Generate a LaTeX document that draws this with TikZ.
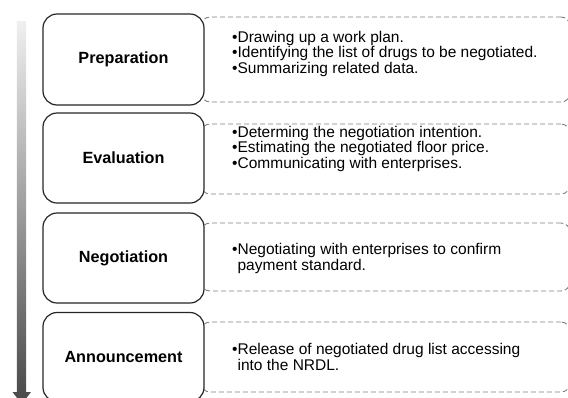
\documentclass[tikz,border=0pt]{standalone}
\usepackage{fontspec}
\setmainfont{Liberation Sans}
\begin{document}
\begin{tikzpicture}[x=1pt,y=-1pt]
\useasboundingbox (0,0) rectangle (568,397);
\clip (0,0) rectangle (568,397);
\tikzset{
  stage/.style={draw=black!85, line width=1.2pt, rounded corners=14pt, fill=white,
    minimum width=161pt, inner sep=0pt, font=\fontsize{16.2}{18}\selectfont\bfseries},
  detail/.style={draw=black!50, dash pattern=on 5pt off 3pt, line width=0.9pt,
    rounded corners=9pt, minimum width=369pt, inner sep=0pt},
  items/.style={anchor=west, align=left, inner sep=0pt,
    font=\fontsize{15.5}{15.5}\selectfont}
}
% timeline arrow
\shade[top color=black!6, bottom color=black!70] (16.8,21) rectangle (26,392.5);
\fill[black!70] (12.5,392) -- (31,392) -- (21.75,404) -- cycle;

% dashed detail boxes
\node[detail, minimum height=85pt] (d1) at (385.5,59.5) {};
\node[detail, minimum height=70pt] (d2) at (385.5,159) {};
\node[detail, minimum height=68pt] (d3) at (385.5,257) {};
\node[detail, minimum height=70pt] (d4) at (385.5,357) {};

% stage boxes
\node[stage, minimum height=91pt] (s1) at (123.5,59.5) {Preparation};
\node[stage, minimum height=90pt] (s2) at (123.5,158) {Evaluation};
\node[stage, minimum height=90pt] (s3) at (123.5,258) {Negotiation};
\node[stage, minimum height=89pt] (s4) at (123.5,357) {Announcement};

% item texts
\node[items] (t1) at (232,53.5) {•Drawing up a work plan.\\•Identifying the list of drugs to be negotiated.\\•Summarizing related data.};
\node[items] (t2) at (232,148.5) {•Determing the negotiation intention.\\•Estimating the negotiated floor price.\\•Communicating with enterprises.};
\node[items] (t3) at (232,258.5) {•Negotiating with enterprises to confirm\\\phantom{•}payment standard.};
\node[items] (t4) at (232,357) {•Release of negotiated drug list accessing\\\phantom{•}into the NRDL.};
\end{tikzpicture}
\end{document}
